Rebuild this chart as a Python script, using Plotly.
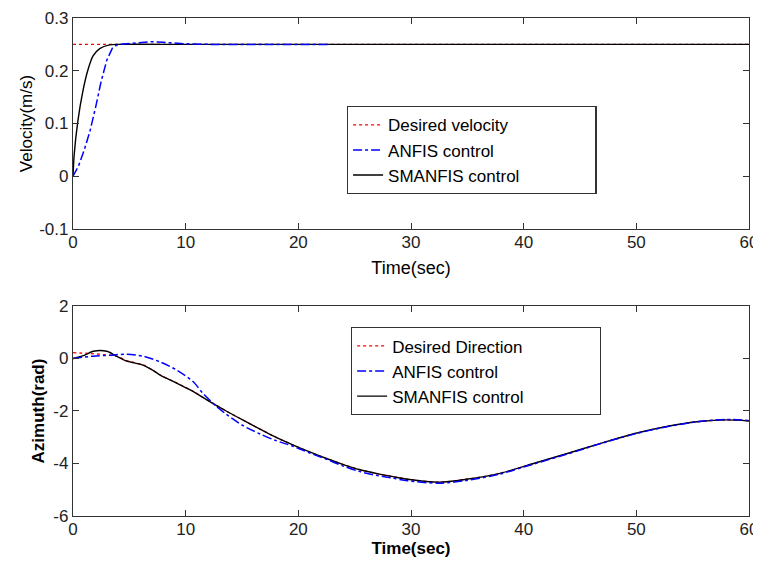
import plotly.graph_objects as go

# ---------------- data: velocity ----------------
t_vel_desired = [0, 60]
vel_desired = [0.25, 0.25]

t_vel_anfis = [0, 0.5, 1.0, 1.5, 2.0, 2.5, 3.0, 3.5, 4.0, 5.0, 6.0, 7.0, 8.0, 9.0, 10.0, 12.0, 15.0, 20.0, 22.7]
vel_anfis = [0.0, 0.02, 0.05, 0.085, 0.13, 0.18, 0.22, 0.243, 0.25, 0.252, 0.254, 0.255, 0.254, 0.252, 0.251, 0.25, 0.25, 0.25, 0.25]

t_vel_smanfis = [0, 0.1, 0.44, 0.89, 1.33, 1.78, 2.37, 3.25, 4.0, 10, 20, 30, 40, 50, 60]
vel_smanfis = [0.0, 0.04, 0.106, 0.163, 0.202, 0.228, 0.242, 0.249, 0.25, 0.25, 0.25, 0.25, 0.25, 0.25, 0.25]

# ---------------- data: azimuth ----------------
t_az_desired = [0, 1.5, 3.25, 4.1, 4.7, 6.2, 7.1, 7.7, 9.2, 10.65, 12.1, 13.6, 15.1, 16.6, 18.0, 19.5, 21.0, 22.5,
                24.0, 25.4, 26.9, 28.4, 29.7, 32.5, 34.9, 37.9, 40.8, 43.8, 46.7, 49.7, 52.7, 55.6, 58.0, 60.0]
az_desired = [0.22, 0.19, 0.125, 0.06, -0.07, -0.24, -0.45, -0.62, -0.93, -1.25, -1.63, -2.0, -2.35, -2.69, -3.0, -3.29,
              -3.56, -3.81, -4.04, -4.23, -4.38, -4.5, -4.6, -4.71, -4.6, -4.375, -4.01, -3.63, -3.25, -2.875, -2.59,
              -2.4, -2.34, -2.37]

t_az_anfis = [0, 1.8, 3.25, 4.7, 6.2, 7.7, 9.2, 10.65, 11.5, 12.7, 13.6, 15.1, 16.6, 18.0, 19.5, 21.0, 22.5, 24.0,
              25.4, 26.9, 28.4, 29.7, 32.5, 34.9, 37.9, 40.8, 43.8, 46.7, 49.7, 52.7, 55.6, 58.0, 60.0]
az_anfis = [0.0, 0.09, 0.125, 0.16, 0.09, -0.125, -0.44, -0.875, -1.31, -1.81, -2.125, -2.56, -2.875, -3.125, -3.34,
            -3.6, -3.84, -4.1, -4.3, -4.45, -4.56, -4.66, -4.75, -4.65, -4.4, -4.03, -3.65, -3.26, -2.89, -2.6,
            -2.4, -2.32, -2.36]

t_az_smanfis = [0, 1.0, 1.8, 3.0, 3.85, 4.7, 6.2, 7.1, 7.7, 9.2, 10.65, 12.1, 13.6, 15.1, 16.6, 18.0, 19.5, 21.0, 22.5,
                24.0, 25.4, 26.9, 28.4, 29.7, 32.5, 34.9, 37.9, 40.8, 43.8, 46.7, 49.7, 52.7, 55.6, 58.0, 60.0]
az_smanfis = [0.0, 0.12, 0.275, 0.275, 0.09, -0.09, -0.25, -0.45, -0.62, -0.94, -1.25, -1.63, -2.0, -2.35, -2.69,
              -3.0, -3.29, -3.56, -3.81, -4.04, -4.23, -4.375, -4.5, -4.6, -4.71, -4.6, -4.375, -4.01, -3.63, -3.25,
              -2.875, -2.59, -2.4, -2.34, -2.38]

x_ticks = [0, 10, 20, 30, 40, 50, 60]
vel_ticks = [-0.1, 0, 0.1, 0.2, 0.3]
vel_tick_text = ["-0.1", "0", "0.1", "0.2", "0.3"]
az_ticks = [-6, -4, -2, 0, 2]
az_tick_text = ["-6", "-4", "-2", "0", "2"]

RED = "#ff0000"
BLUE = "#0000ff"
BLACK = "#000000"
FONT = "Liberation Sans, Arial, sans-serif"
PAD = "\u00a0" * 15  # trailing blank room inside the legend box

fig = go.Figure()

# top subplot
fig.add_trace(go.Scatter(x=t_vel_desired, y=vel_desired, mode="lines", name="Desired velocity",
                         line=dict(color=RED, dash="dot", width=1.3), xaxis="x", yaxis="y",
                         legend="legend", legendrank=1))
fig.add_trace(go.Scatter(x=t_vel_smanfis, y=vel_smanfis, mode="lines", name="SMANFIS control" + PAD,
                         line=dict(color=BLACK, width=1.4, shape="spline", smoothing=0.6), xaxis="x", yaxis="y",
                         legend="legend", legendrank=3))
fig.add_trace(go.Scatter(x=t_vel_anfis, y=vel_anfis, mode="lines", name="ANFIS control",
                         line=dict(color=BLUE, dash="dashdot", width=1.5), xaxis="x", yaxis="y",
                         legend="legend", legendrank=2))

# bottom subplot
fig.add_trace(go.Scatter(x=t_az_desired, y=az_desired, mode="lines", name="Desired Direction",
                         line=dict(color=RED, dash="dot", width=1.3, shape="spline", smoothing=0.8),
                         xaxis="x2", yaxis="y2", legend="legend2", legendrank=1))
fig.add_trace(go.Scatter(x=t_az_smanfis, y=az_smanfis, mode="lines", name="SMANFIS control" + PAD,
                         line=dict(color=BLACK, width=1.4, shape="spline", smoothing=0.8),
                         xaxis="x2", yaxis="y2", legend="legend2", legendrank=3))
fig.add_trace(go.Scatter(x=t_az_anfis, y=az_anfis, mode="lines", name="ANFIS control",
                         line=dict(color=BLUE, dash="dashdot", width=1.5, shape="spline", smoothing=0.8),
                         xaxis="x2", yaxis="y2", legend="legend2", legendrank=2))

axis_common = dict(showline=True, linecolor="#333333", linewidth=1.3, mirror="ticks", ticks="inside",
                   ticklen=6, tickcolor="#333333", tickwidth=1.2, showgrid=False, zeroline=False,
                   automargin=False, ticklabeloverflow="allow",
                   tickfont=dict(family=FONT, size=17, color="#222222"))

# the page body adds an 8 px margin, so the figure starts at (8, 8)
fig.update_layout(
    width=753, height=550,
    margin=dict(l=65, r=12, t=10, b=42, autoexpand=False),
    paper_bgcolor="white", plot_bgcolor="white",
    font=dict(family=FONT, size=17, color="black"),
    xaxis=dict(domain=[0, 1], range=[0, 60], tickvals=x_ticks, anchor="y", ticklabelstandoff=-3,
               title=dict(text="Time(sec)", standoff=10, font=dict(size=18)), **axis_common),
    yaxis=dict(domain=[0.5763, 1.0], range=[-0.1, 0.3], tickvals=vel_ticks, ticktext=vel_tick_text, anchor="x",
               title=dict(text="Velocity(m/s)", standoff=2, font=dict(size=17)), **axis_common),
    xaxis2=dict(domain=[0, 1], range=[0, 60], tickvals=x_ticks, anchor="y2", ticklabelstandoff=-3,
                title=dict(text="<b>Time(sec)</b>", standoff=9, font=dict(size=17)), **axis_common),
    yaxis2=dict(domain=[0.0, 0.4217], range=[-6, 2], tickvals=az_ticks, ticktext=az_tick_text, anchor="x2",
                title=dict(text="<b>Azimuth(rad)</b>", standoff=4, font=dict(size=17)), **axis_common),
    legend=dict(x=0.405, y=0.735, xanchor="left", yanchor="middle", bgcolor="white",
                bordercolor="#333333", borderwidth=1.3, font=dict(family=FONT, size=17, color="black"),
                tracegroupgap=0),
    legend2=dict(x=0.411, y=0.291, xanchor="left", yanchor="middle", bgcolor="white",
                 bordercolor="#333333", borderwidth=1.3, font=dict(family=FONT, size=17, color="black"),
                 tracegroupgap=0),
    showlegend=True,
)

fig.write_html("out.html")
